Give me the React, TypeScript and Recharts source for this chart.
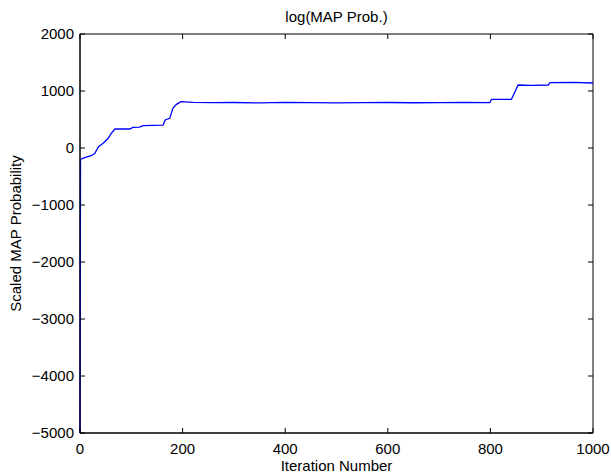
import React from "react";
import { Label, Line, LineChart, ReferenceArea, XAxis, YAxis } from "recharts";

// Iteration number and scaled MAP log-probability.
const iterations = [
  0, 1, 9, 22, 29, 36, 45, 55, 61, 68, 97, 103, 116, 123, 162, 166, 175, 181, 188, 197,
  220, 260, 300, 350, 400, 450, 500, 550, 600, 650, 700, 750, 799, 802, 841, 848, 854, 880, 913, 916, 960, 1000
];
const mapProb = [
  -5000, -200, -170, -135, -94, 23, 82, 170, 258, 333, 333, 363, 365, 392, 403, 491, 520, 696, 766, 813,
  800, 795, 798, 792, 800, 796, 792, 797, 798, 794, 795, 798, 795, 854, 854, 988, 1105, 1100, 1105, 1146, 1150, 1140
];
const xTicks = [0, 200, 400, 600, 800, 1000];
const yTicks = [-5000, -4000, -3000, -2000, -1000, 0, 1000, 2000];

const WIDTH = 611;
const HEIGHT = 475;
const MARGIN = { top: 34, right: 18, bottom: 12, left: 10 };
const X_AXIS_H = 30;
const Y_AXIS_W = 70;
const PLOT_W = WIDTH - MARGIN.left - Y_AXIS_W - MARGIN.right;
const PLOT_H = HEIGHT - MARGIN.top - MARGIN.bottom - X_AXIS_H;
const TICK_LEN = 5;
const FONT = "'Liberation Sans', Arial, Helvetica, sans-serif";
const FONT_SIZE = 15;

const data = iterations.map((it, i) => ({ iter: it, value: mapProb[i] }));

function fmt(v: number): string {
  return v < 0 ? "\u2212" + Math.abs(v) : String(v);
}

// MATLAB-style ticks: pointing inwards, mirrored on the opposite side of the box.
function XTick(props: { x: number; y: number; payload: { value: number } }) {
  const { x, y, payload } = props;
  return (
    <g>
      <line x1={x} x2={x} y1={y} y2={y - TICK_LEN} stroke="#000" />
      <line x1={x} x2={x} y1={y - PLOT_H} y2={y - PLOT_H + TICK_LEN} stroke="#000" />
      <text x={x} y={y + 21} textAnchor="middle" fill="#000" fontSize={FONT_SIZE} fontFamily={FONT}>
        {fmt(payload.value)}
      </text>
    </g>
  );
}

function YTick(props: { x: number; y: number; payload: { value: number } }) {
  const { x, y, payload } = props;
  return (
    <g>
      <line x1={x} x2={x + TICK_LEN} y1={y} y2={y} stroke="#000" />
      <line x1={x + PLOT_W} x2={x + PLOT_W - TICK_LEN} y1={y} y2={y} stroke="#000" />
      <text x={x - 6} y={y + 5} textAnchor="end" fill="#000" fontSize={FONT_SIZE} fontFamily={FONT}>
        {fmt(payload.value)}
      </text>
    </g>
  );
}

export default function App() {
  return (
    <div style={{ position: "absolute", left: 0, top: 0, width: WIDTH, height: HEIGHT, background: "#fff", fontFamily: FONT }}>
      <div
        style={{
          position: "absolute",
          left: MARGIN.left + Y_AXIS_W,
          width: PLOT_W,
          top: 8,
          textAlign: "center",
          fontSize: FONT_SIZE,
          lineHeight: "17px",
          color: "#000"
        }}
      >
        log(MAP Prob.)
      </div>
      <LineChart width={WIDTH} height={HEIGHT} data={data} margin={MARGIN}>
        <XAxis
          dataKey="iter"
          type="number"
          domain={[0, 1000]}
          ticks={xTicks}
          interval={0}
          height={X_AXIS_H}
          tickSize={0}
          tickMargin={0}
          tickLine={false}
          axisLine={{ stroke: "#000" }}
          tick={XTick}
        >
          <Label
            content={(p: any) => {
              const vb = p.viewBox || { x: 0, y: 0, width: 0 };
              return (
                <text x={vb.x + vb.width / 2} y={471} textAnchor="middle" fill="#000" fontSize={FONT_SIZE} fontFamily={FONT}>
                  Iteration Number
                </text>
              );
            }}
          />
        </XAxis>
        <YAxis
          type="number"
          domain={[-5000, 2000]}
          ticks={yTicks}
          interval={0}
          width={Y_AXIS_W}
          tickSize={0}
          tickMargin={0}
          tickLine={false}
          axisLine={{ stroke: "#000" }}
          tick={YTick}
        >
          <Label
            content={(p: any) => {
              const vb = p.viewBox || { x: 0, y: 0, height: 0 };
              const cy = vb.y + vb.height / 2;
              return (
                <text
                  x={21}
                  y={cy}
                  transform={`rotate(-90 21 ${cy})`}
                  textAnchor="middle"
                  fill="#000"
                  fontSize={FONT_SIZE}
                  fontFamily={FONT}
                >
                  Scaled MAP Probability
                </text>
              );
            }}
          />
        </YAxis>
        <ReferenceArea x1={0} x2={1000} y1={-5000} y2={2000} fill="none" stroke="#000" ifOverflow="visible" />
        <Line type="linear" dataKey="value" stroke="#0000ff" strokeWidth={1.3} dot={false} isAnimationActive={false} />
      </LineChart>
    </div>
  );
}
